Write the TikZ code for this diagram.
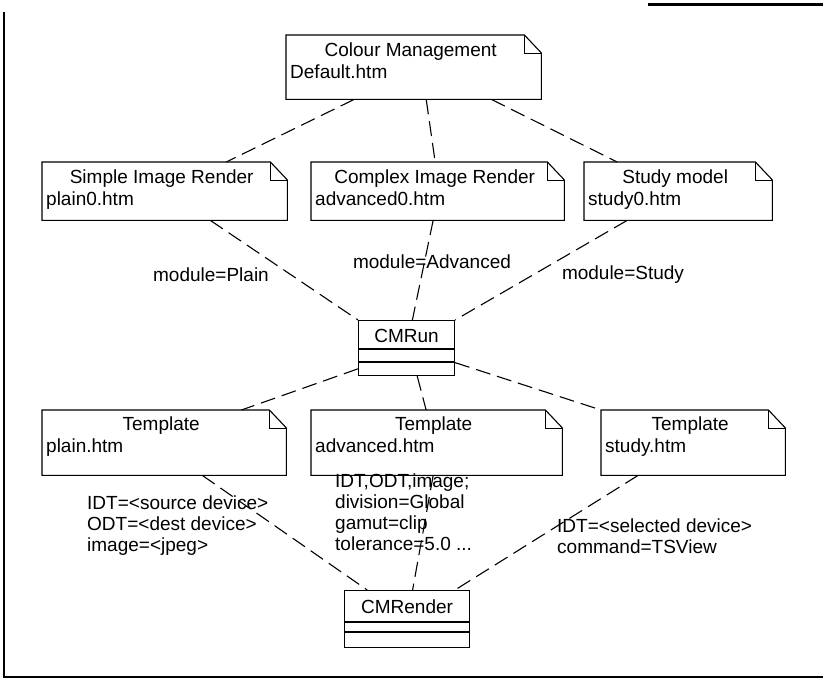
\documentclass[tikz,border=0pt]{standalone}
\usepackage{fontspec}
\setmainfont{Liberation Sans}
\usetikzlibrary{calc}

\begin{document}
\begin{tikzpicture}[x=1pt,y=-1pt,
  font=\fontsize{19}{22}\selectfont,
  notebox/.style={inner sep=0pt,anchor=north west},
  notetext/.style={inner sep=0pt,anchor=north west,align=left},
  classbox/.style={draw,line width=1.1pt,inner sep=0pt,anchor=north west},
  link/.style={line width=1.1pt,dash pattern=on 15pt off 7pt},
  tagtext/.style={inner sep=0pt,align=left,font=\fontsize{19}{21}\selectfont}
]
\useasboundingbox (0,0) rectangle (823,680);

% frame
\draw[line width=2pt] (4,12) -- (4,677) -- (823,677);
\draw[line width=3pt] (648,4) -- (823,4);

% notes
\node[notebox,minimum width=255pt,minimum height=64pt] (colour) at (286,35) {};
\node[notebox,minimum width=245pt,minimum height=58pt] (simple) at (42,162) {};
\node[notebox,minimum width=253pt,minimum height=58pt] (complex) at (311,162) {};
\node[notebox,minimum width=188pt,minimum height=58pt] (study) at (584,162) {};
\node[notebox,minimum width=244pt,minimum height=65pt] (tplain) at (42,410) {};
\node[notebox,minimum width=251pt,minimum height=65pt] (tadv) at (311,410) {};
\node[notebox,minimum width=184pt,minimum height=65pt] (tstudy) at (601,410) {};

\foreach \n in {colour,simple,complex,study,tplain,tadv,tstudy}{
  \draw[line width=1.1pt] (\n.north west) -- ($(\n.north east)+(-17,0)$)
    -- ($(\n.north east)+(0,18)$) -- (\n.south east) -- (\n.south west) -- cycle;
  \draw[line width=0.8pt] ($(\n.north east)+(-17,0)$) |- ($(\n.north east)+(0,18)$);
}

\node[notetext] (colourtxt) at ($(colour.north west)+(4,8)$) {\makebox[241pt]{Colour Management}\\Default.htm};
\node[notetext] (simpletxt) at ($(simple.north west)+(4,8)$) {\makebox[231pt]{Simple Image Render}\\plain0.htm};
\node[notetext] (complextxt) at ($(complex.north west)+(4,8)$) {\makebox[239pt]{Complex Image Render}\\advanced0.htm};
\node[notetext] (studytxt) at ($(study.north west)+(4,8)$) {\makebox[174pt]{Study model}\\study0.htm};
\node[notetext] (tplaintxt) at ($(tplain.north west)+(4,7)$) {\makebox[230pt]{Template}\\plain.htm};
\node[notetext] (tadvtxt) at ($(tadv.north west)+(4,7)$) {\makebox[237pt]{Template}\\advanced.htm};
\node[notetext] (tstudytxt) at ($(tstudy.north west)+(4,7)$) {\makebox[170pt]{Template}\\study.htm};

% classes
\node[classbox,minimum width=96pt,minimum height=55pt] (run) at (358,320) {};
\node (runname) at ($(run.north)+(0,16)$) {CMRun};
\node[classbox,minimum width=125pt,minimum height=57pt] (render) at (344,590) {};
\node (rendername) at ($(render.north)+(0,17)$) {CMRender};
\foreach \c/\a/\b in {run/29/42,render/32/42}{
  \draw[line width=1.1pt] ($(\c.north west)+(0,\a)$) -- ($(\c.north east)+(0,\a)$);
  \draw[line width=1.1pt] ($(\c.north west)+(0,\b)$) -- ($(\c.north east)+(0,\b)$);
}

% links
\draw[link] ($(colour.south west)!0.267!(colour.south east)$) -- ($(simple.north west)!0.751!(simple.north east)$);
\draw[link] ($(colour.south west)!0.549!(colour.south east)$) -- ($(complex.north west)!0.49!(complex.north east)$);
\draw[link] ($(colour.south west)!0.804!(colour.south east)$) -- ($(study.north west)!0.176!(study.north east)$);

\draw[link] ($(simple.south west)!0.686!(simple.south east)$) -- (run.north west);
\draw[link] ($(complex.south west)!0.482!(complex.south east)$) -- ($(run.north west)!0.56!(run.north east)$);
\draw[link] ($(study.south west)!0.229!(study.south east)$) -- (run.north east);

\draw[link] ($(run.north west)!0.87!(run.south west)$) -- ($(tplain.north west)!0.816!(tplain.north east)$);
\draw[link] ($(run.south west)!0.61!(run.south east)$) -- ($(tadv.north west)!0.458!(tadv.north east)$);
\draw[link] ($(run.north east)!0.76!(run.south east)$) -- (tstudy.north west);

\draw[link] ($(tplain.south west)!0.656!(tplain.south east)$) -- ($(render.north west)!0.184!(render.north east)$);
\draw[link] ($(tadv.south west)!0.486!(tadv.south east)$) -- ($(render.north west)!0.544!(render.north east)$);
\draw[link] ($(tstudy.south west)!0.201!(tstudy.south east)$) -- ($(render.north west)!0.88!(render.north east)$);

% link labels
\node[tagtext] (modplain) at (211,275) {module=Plain};
\node[tagtext] (modadv) at (432,262) {module=Advanced};
\node[tagtext] (modstudy) at (623,275) {module=Study};
\node[tagtext,anchor=north west] (plainargs) at (87,496) {IDT=<source device>\\ODT=<dest device>\\image=<jpeg>};
\node[tagtext,anchor=north west] (advargs) at (335,474) {IDT,ODT,image;\\division=Global\\gamut=clip\\tolerance=5.0 ...};
\node[tagtext,anchor=north west] (studyargs) at (557,519) {IDT=<selected device>\\command=TSView};
\end{tikzpicture}
\end{document}
